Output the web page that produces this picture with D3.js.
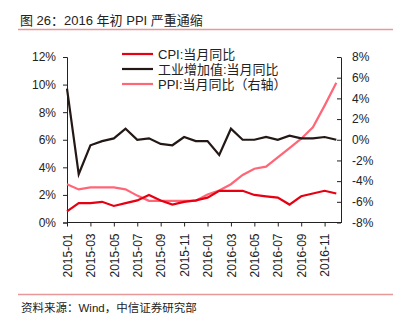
<!DOCTYPE html>
<html>
<head>
<meta charset="utf-8">
<script src="https://cdn.jsdelivr.net/npm/d3@7/dist/d3.min.js"></script>
<style>
  html, body { margin: 0; padding: 0; background: #fff; }
  svg { display: block; }
  text { font-family: "Liberation Sans", Arial, "Noto Sans CJK SC", sans-serif; fill: #222; }
</style>
</head>
<body>
<svg id="chart" width="403" height="323"></svg>
<script>
// Monthly observations, 2015-01 .. 2016-12
const months = [
  "2015-01","2015-02","2015-03","2015-04","2015-05","2015-06",
  "2015-07","2015-08","2015-09","2015-10","2015-11","2015-12",
  "2016-01","2016-02","2016-03","2016-04","2016-05","2016-06",
  "2016-07","2016-08","2016-09","2016-10","2016-11","2016-12"
];
// CPI YoY (%), left axis
const cpi = [0.8,1.4,1.4,1.5,1.2,1.4,1.6,2.0,1.6,1.3,1.5,1.6,
             1.8,2.3,2.3,2.3,2.0,1.9,1.8,1.3,1.9,2.1,2.3,2.1];
// Industrial value added YoY (%), left axis
const industry = [9.7,3.5,5.6,5.9,6.1,6.8,6.0,6.1,5.7,5.6,6.2,5.9,
                  5.9,4.9,6.8,6.0,6.0,6.2,6.0,6.3,6.1,6.1,6.2,6.0];
// PPI YoY (%), right axis
const ppi = [-4.3,-4.8,-4.6,-4.6,-4.6,-4.8,-5.4,-5.9,-5.9,-5.9,-5.9,-5.9,
             -5.3,-4.9,-4.3,-3.4,-2.8,-2.6,-1.7,-0.8,0.1,1.2,3.3,5.5];

const leftTicks = [0,2,4,6,8,10,12];
const rightTicks = [-8,-6,-4,-2,0,2,4,6,8];

const titleText = "图 26：2016 年初 PPI 严重通缩";
const sourceText = "资料来源：Wind，中信证券研究部";
const seriesNames = ["CPI:当月同比", "工业增加值:当月同比", "PPI:当月同比（右轴）"];
const colors = ["#e60012", "#231815", "#ff6678"];

const svg = d3.select("#chart");

const plot = { left: 67, right: 341, top: 57, bottom: 222.5 };

const x = d3.scaleLinear().domain([0, 23.4]).range([plot.left, plot.right]);
const yL = d3.scaleLinear().domain([0, 12]).range([plot.bottom, plot.top]);
const yR = d3.scaleLinear().domain([-8, 8]).range([plot.bottom, plot.top]);

// Title and rules
svg.append("text").attr("x", 20).attr("y", 25)
  .style("font-size", "13px").text(titleText);
svg.append("line").attr("x1", 18).attr("x2", 393).attr("y1", 29.5).attr("y2", 29.5)
  .attr("stroke", "#e89898").attr("stroke-width", 1.5);
svg.append("line").attr("x1", 18).attr("x2", 393).attr("y1", 294.5).attr("y2", 294.5)
  .attr("stroke", "#e89898").attr("stroke-width", 1.5);
svg.append("text").attr("x", 21).attr("y", 312)
  .style("font-size", "11.5px").text(sourceText);

// Left axis
const gL = svg.append("g").attr("transform", `translate(${plot.left},0)`)
  .call(d3.axisLeft(yL).tickValues(leftTicks).tickFormat(d => d + "%").tickSizeOuter(0).tickSize(4).tickPadding(7));
// Right axis (ticks point inward)
const gR = svg.append("g").attr("transform", `translate(${plot.right},0)`)
  .call(d3.axisRight(yR).tickValues(rightTicks).tickFormat(d => d + "%").tickSizeOuter(0).tickSize(0).tickPadding(11));
gR.selectAll(".tick").append("line").attr("x1", -4).attr("x2", 0).attr("stroke", "#222");
// Bottom axis
const gX = svg.append("g").attr("transform", `translate(0,${plot.bottom})`)
  .call(d3.axisBottom(x).tickValues(d3.range(0, 24, 2)).tickFormat(i => months[i])
    .tickSizeOuter(0).tickSize(4));
gX.select(".domain").attr("d", `M${plot.left},0H${plot.right}`);
gX.selectAll(".tick text")
  .attr("transform", "rotate(-90)")
  .attr("text-anchor", "end")
  .attr("x", -11).attr("y", 0).attr("dy", "0.35em");

[gL, gR, gX].forEach(g => {
  g.selectAll(".domain").attr("stroke", "#222");
  g.selectAll(".tick line").attr("stroke", "#222");
  g.selectAll(".tick text").style("font-size", "12px").attr("fill", "#222")
    .style("font-family", "'Liberation Sans', Arial, sans-serif");
});

// Series lines
const lineL = d3.line().x((d, i) => x(i)).y(d => yL(d));
const lineR = d3.line().x((d, i) => x(i)).y(d => yR(d));

svg.append("path").datum(ppi).attr("d", lineR)
  .attr("fill", "none").attr("stroke", colors[2]).attr("stroke-width", 2.2);
svg.append("path").datum(cpi).attr("d", lineL)
  .attr("fill", "none").attr("stroke", colors[0]).attr("stroke-width", 2.2);
svg.append("path").datum(industry).attr("d", lineL)
  .attr("fill", "none").attr("stroke", colors[1]).attr("stroke-width", 2.2);

// Legend
const legend = svg.append("g").attr("transform", "translate(122,54)");
seriesNames.forEach((name, i) => {
  const g = legend.append("g").attr("transform", `translate(0,${i * 15})`);
  g.append("line").attr("x1", 0).attr("x2", 31).attr("y1", 0).attr("y2", 0)
    .attr("stroke", colors[i]).attr("stroke-width", 2.2);
  g.append("text").attr("x", 36).attr("y", 0).attr("dy", "0.36em")
    .style("font-size", "13px").text(name);
});
</script>
</body>
</html>
